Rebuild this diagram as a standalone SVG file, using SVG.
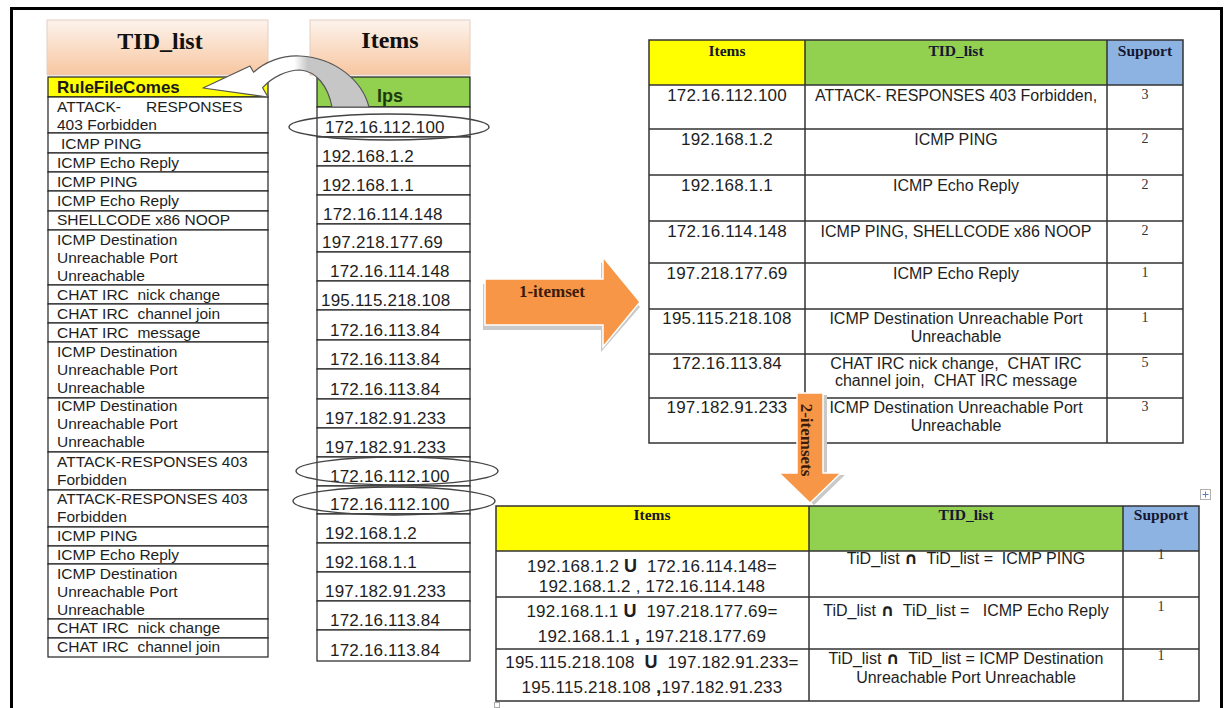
<svg xmlns="http://www.w3.org/2000/svg" width="1227" height="708" viewBox="0 0 1227 708">
<style>
.t{font-family:"Liberation Sans",Arial,sans-serif;font-size:15.5px;fill:#1e1e1e}
.ip{font-family:"Liberation Sans",Arial,sans-serif;font-size:17px;fill:#1e1e1e;letter-spacing:0.2px}
.m{text-anchor:middle}
.td{font-family:"Liberation Sans",Arial,sans-serif;font-size:16px;fill:#1e1e1e;text-anchor:middle}
.cap{font-family:"DejaVu Sans",sans-serif;font-size:17px;font-weight:bold}
.hd{font-family:"Liberation Serif","Times New Roman",serif;font-weight:bold;font-size:15.5px;fill:#161630;text-anchor:middle}
.big{font-family:"Liberation Serif","Times New Roman",serif;font-weight:bold;font-size:24px;fill:#111;text-anchor:middle}
.num{font-family:"Liberation Serif","Times New Roman",serif;font-size:14px;fill:#333;text-anchor:middle}
.cell{fill:#fff;stroke:#222;stroke-width:1.2}
.grid{fill:none;stroke:#333;stroke-width:1.5}
.ell{fill:none;stroke:#444;stroke-width:1.4}
.head{fill:url(#peach);stroke:#e3cfc2;stroke-width:1}
.orange{fill:#f79646;stroke:#fff;stroke-width:1.5}
.shadow{fill:#c9c9c9}
.lbl{font-family:"Liberation Serif","Times New Roman",serif;font-weight:bold;font-size:17px;fill:#3a1c0c;text-anchor:middle}
</style>
<defs>
<linearGradient id="peach" x1="0" y1="0" x2="0" y2="1">
<stop offset="0" stop-color="#fdf3ec"/>
<stop offset="1" stop-color="#f7c6a0"/>
</linearGradient>
<linearGradient id="ribbon" x1="0" y1="0" x2="1" y2="0">
<stop offset="0.55" stop-color="#ffffff"/>
<stop offset="0.63" stop-color="#c6c6c6"/>
</linearGradient>
</defs>
<rect x="0" y="0" width="1227" height="708" fill="#fff"/>
<rect x="11.5" y="8.5" width="1210" height="720" fill="none" stroke="#000" stroke-width="3"/>

<g id="tid-list">
<rect class="head" x="47" y="20" width="221" height="55"/>
<text class="big" x="160" y="49">TID_list</text>
<rect x="48" y="77" width="220" height="20" fill="#ffff00" stroke="#222" stroke-width="1.2"/>
<text x="57" y="93" style="font-family:'Liberation Sans',Arial,sans-serif;font-weight:bold;font-size:17px;fill:#1a1a1a">RuleFileComes</text>
<rect class="cell" x="48" y="97" width="220" height="36"/>
<rect class="cell" x="48" y="133" width="220" height="20"/>
<rect class="cell" x="48" y="153" width="220" height="19"/>
<rect class="cell" x="48" y="172" width="220" height="19"/>
<rect class="cell" x="48" y="191" width="220" height="20"/>
<rect class="cell" x="48" y="211" width="220" height="19"/>
<rect class="cell" x="48" y="230" width="220" height="55"/>
<rect class="cell" x="48" y="285" width="220" height="19"/>
<rect class="cell" x="48" y="304" width="220" height="19"/>
<rect class="cell" x="48" y="323" width="220" height="19"/>
<rect class="cell" x="48" y="342" width="220" height="56"/>
<rect class="cell" x="48" y="398" width="220" height="54"/>
<rect class="cell" x="48" y="452" width="220" height="38"/>
<rect class="cell" x="48" y="490" width="220" height="37"/>
<rect class="cell" x="48" y="527" width="220" height="19"/>
<rect class="cell" x="48" y="546" width="220" height="18"/>
<rect class="cell" x="48" y="564" width="220" height="55"/>
<rect class="cell" x="48" y="619" width="220" height="19"/>
<rect class="cell" x="48" y="638" width="220" height="19"/>
<text class="t" y="112"><tspan x="57">ATTACK-</tspan><tspan x="146">RESPONSES</tspan></text>
<text class="t" x="57" y="130">403 Forbidden</text>
<text class="t" x="61" y="149">ICMP PING</text>
<text class="t" x="57" y="168">ICMP Echo Reply</text>
<text class="t" x="57" y="187">ICMP PING</text>
<text class="t" x="57" y="206">ICMP Echo Reply</text>
<text class="t" x="57" y="225">SHELLCODE x86 NOOP</text>
<text class="t" x="57" y="245">ICMP Destination</text>
<text class="t" x="57" y="263">Unreachable Port</text>
<text class="t" x="57" y="281">Unreachable</text>
<text class="t" x="57" y="300" xml:space="preserve">CHAT IRC  nick change</text>
<text class="t" x="57" y="319" xml:space="preserve">CHAT IRC  channel join</text>
<text class="t" x="57" y="338" xml:space="preserve">CHAT IRC  message</text>
<text class="t" x="57" y="357">ICMP Destination</text>
<text class="t" x="57" y="375">Unreachable Port</text>
<text class="t" x="57" y="393">Unreachable</text>
<text class="t" x="57" y="411">ICMP Destination</text>
<text class="t" x="57" y="429">Unreachable Port</text>
<text class="t" x="57" y="447">Unreachable</text>
<text class="t" x="57" y="467">ATTACK-RESPONSES 403</text>
<text class="t" x="57" y="485">Forbidden</text>
<text class="t" x="57" y="504">ATTACK-RESPONSES 403</text>
<text class="t" x="57" y="522">Forbidden</text>
<text class="t" x="57" y="541">ICMP PING</text>
<text class="t" x="57" y="560">ICMP Echo Reply</text>
<text class="t" x="57" y="579">ICMP Destination</text>
<text class="t" x="57" y="597">Unreachable Port</text>
<text class="t" x="57" y="615">Unreachable</text>
<text class="t" x="57" y="633" xml:space="preserve">CHAT IRC  nick change</text>
<text class="t" x="57" y="652" xml:space="preserve">CHAT IRC  channel join</text>
</g>

<g id="items-list">
<rect class="head" x="310" y="20" width="160" height="55"/>
<text class="big" x="390" y="48">Items</text>
<rect x="317" y="77" width="153" height="30" fill="#92d050" stroke="#222" stroke-width="1.2"/>
<text x="390" y="102" text-anchor="middle" style="font-family:'Liberation Sans',Arial,sans-serif;font-weight:bold;font-size:18px;fill:#1e3a0b">Ips</text>
<rect class="cell" x="317" y="107" width="153" height="30"/>
<rect class="cell" x="317" y="137" width="153" height="29"/>
<rect class="cell" x="317" y="166" width="153" height="29"/>
<rect class="cell" x="317" y="195" width="153" height="29"/>
<rect class="cell" x="317" y="224" width="153" height="28"/>
<rect class="cell" x="317" y="252" width="153" height="29"/>
<rect class="cell" x="317" y="281" width="153" height="29"/>
<rect class="cell" x="317" y="310" width="153" height="30"/>
<rect class="cell" x="317" y="340" width="153" height="29"/>
<rect class="cell" x="317" y="369" width="153" height="30"/>
<rect class="cell" x="317" y="399" width="153" height="29"/>
<rect class="cell" x="317" y="428" width="153" height="29"/>
<rect class="cell" x="317" y="457" width="153" height="29"/>
<rect class="cell" x="317" y="486" width="153" height="28"/>
<rect class="cell" x="317" y="514" width="153" height="29"/>
<rect class="cell" x="317" y="543" width="153" height="29"/>
<rect class="cell" x="317" y="572" width="153" height="29"/>
<rect class="cell" x="317" y="601" width="153" height="29"/>
<rect class="cell" x="317" y="630" width="153" height="31"/>
<text class="ip" x="325" y="133">172.16.112.100</text>
<text class="ip" x="322" y="162">192.168.1.2</text>
<text class="ip" x="322" y="191">192.168.1.1</text>
<text class="ip" x="323" y="220">172.16.114.148</text>
<text class="ip" x="322" y="248">197.218.177.69</text>
<text class="ip" x="330" y="277">172.16.114.148</text>
<text class="ip" x="321" y="306">195.115.218.108</text>
<text class="ip" x="330" y="336">172.16.113.84</text>
<text class="ip" x="330" y="365">172.16.113.84</text>
<text class="ip" x="330" y="395">172.16.113.84</text>
<text class="ip" x="325" y="424">197.182.91.233</text>
<text class="ip" x="325" y="453">197.182.91.233</text>
<text class="ip" x="330" y="482">172.16.112.100</text>
<text class="ip" x="330" y="510">172.16.112.100</text>
<text class="ip" x="325" y="539">192.168.1.2</text>
<text class="ip" x="325" y="568">192.168.1.1</text>
<text class="ip" x="325" y="597">197.182.91.233</text>
<text class="ip" x="330" y="626">172.16.113.84</text>
<text class="ip" x="330" y="656">172.16.113.84</text>
</g>

<g id="highlights">
<ellipse class="ell" cx="389" cy="127" rx="100" ry="13"/>
<ellipse class="ell" cx="397" cy="471" rx="101" ry="14"/>
<ellipse class="ell" cx="394" cy="501" rx="101" ry="14"/>
</g>

<g id="table-1itemset">
<rect x="649" y="40" width="156" height="45" fill="#ffff00"/>
<rect x="805" y="40" width="302" height="45" fill="#92d050"/>
<rect x="1107" y="40" width="76" height="45" fill="#8db3e2"/>
<rect class="grid" x="649" y="40" width="534" height="403"/>
<path class="grid" d="M805 40V443M1107 40V443M649 85H1183M649 129H1183M649 175H1183M649 221H1183M649 263H1183M649 309H1183M649 354H1183M649 398H1183"/>
<text class="hd" x="727" y="56">Items</text>
<text class="hd" x="956" y="56">TID_list</text>
<text class="hd" x="1145" y="56">Support</text>
<text class="ip m" x="727" y="101">172.16.112.100</text>
<text class="td" x="956" y="101">ATTACK- RESPONSES 403 Forbidden,</text>
<text class="num" x="1145" y="99">3</text>
<text class="ip m" x="727" y="145">192.168.1.2</text>
<text class="td" x="956" y="145">ICMP PING</text>
<text class="num" x="1145" y="143">2</text>
<text class="ip m" x="727" y="191">192.168.1.1</text>
<text class="td" x="956" y="191">ICMP Echo Reply</text>
<text class="num" x="1145" y="189">2</text>
<text class="ip m" x="727" y="237">172.16.114.148</text>
<text class="td" x="956" y="237">ICMP PING, SHELLCODE x86 NOOP</text>
<text class="num" x="1145" y="235">2</text>
<text class="ip m" x="727" y="279">197.218.177.69</text>
<text class="td" x="956" y="279">ICMP Echo Reply</text>
<text class="num" x="1145" y="277">1</text>
<text class="ip m" x="727" y="324">195.115.218.108</text>
<text class="td" x="956" y="324">ICMP Destination Unreachable Port</text>
<text class="td" x="956" y="342">Unreachable</text>
<text class="num" x="1145" y="322">1</text>
<text class="ip m" x="727" y="369">172.16.113.84</text>
<text class="td" x="956" y="369" xml:space="preserve">CHAT IRC nick change,  CHAT IRC</text>
<text class="td" x="956" y="386" xml:space="preserve">channel join,  CHAT IRC message</text>
<text class="num" x="1145" y="367">5</text>
<text class="ip m" x="727" y="413">197.182.91.233</text>
<text class="td" x="956" y="413">ICMP Destination Unreachable Port</text>
<text class="td" x="956" y="431">Unreachable</text>
<text class="num" x="1145" y="411">3</text>
</g>

<g id="table-2itemsets">
<rect x="496" y="506" width="313" height="45" fill="#ffff00"/>
<rect x="809" y="506" width="314" height="45" fill="#92d050"/>
<rect x="1123" y="506" width="76" height="45" fill="#8db3e2"/>
<rect class="grid" x="496" y="506" width="703" height="195"/>
<path class="grid" d="M809 506V701M1123 506V701M496 551H1199M496 597H1199M496 649H1199"/>
<text class="hd" x="652" y="520">Items</text>
<text class="hd" x="966" y="520">TID_list</text>
<text class="hd" x="1161" y="520">Support</text>
<text class="ip m" x="652" y="572" xml:space="preserve">192.168.1.2 <tspan font-weight="bold" font-size="18">U</tspan>  172.16.114.148=</text>
<text class="ip m" x="652" y="592">192.168.1.2 , 172.16.114.148</text>
<text class="ip m" x="652" y="617" xml:space="preserve">192.168.1.1 <tspan font-weight="bold" font-size="18">U</tspan>  197.218.177.69=</text>
<text class="ip m" x="652" y="642">192.168.1.1 <tspan font-weight="bold" font-size="19">,</tspan> 197.218.177.69</text>
<text class="ip m" x="652" y="668" xml:space="preserve">195.115.218.108  <tspan font-weight="bold" font-size="18">U</tspan>  197.182.91.233=</text>
<text class="ip m" x="652" y="693">195.115.218.108 <tspan font-weight="bold" font-size="19">,</tspan>197.182.91.233</text>
<text class="td" x="966" y="564" xml:space="preserve">TiD_list <tspan class="cap">∩</tspan>  TiD_list =  ICMP PING</text>
<text class="td" x="966" y="616" xml:space="preserve">TiD_list <tspan class="cap">∩</tspan>  TiD_list =   ICMP Echo Reply</text>
<text class="td" x="966" y="664" xml:space="preserve">TiD_list <tspan class="cap">∩</tspan>  TiD_list = ICMP Destination</text>
<text class="td" x="966" y="683">Unreachable Port Unreachable</text>
<text class="num" x="1161" y="559" font-size="13">1</text>
<text class="num" x="1161" y="611" font-size="13">1</text>
<text class="num" x="1161" y="660" font-size="13">1</text>
<rect x="1200.5" y="489.5" width="10" height="10" fill="#fff" stroke="#b0b0b0"/>
<path d="M1205.5 491.5V497.5M1202.5 494.5H1208.5" stroke="#5b7fb8" stroke-width="1"/>
<rect x="494.5" y="702.5" width="5" height="5" fill="none" stroke="#aaa"/>
</g>

<g id="connectors">
<path d="M369 107C362 80 335 58 300 56C282 55 265 62 253.6 72.2L250 66L203 88L268 97L262.6 87.7C272 77 287 70 300 70C316 71 328 86 332 107Z" fill="url(#ribbon)" stroke="#555" stroke-width="1.2" stroke-linejoin="round"/>
<polygon class="shadow" points="483,284 601,284 601,262 640,307 601,352 601,330 483,330"/>
<polygon class="orange" points="485,279 603,279 603,257 640,302 603,347 603,325 485,325"/>
<text class="lbl" x="552" y="297">1-itemset</text>
<polygon class="shadow" points="801,395 827,395 827,475 845,475 814,505 783,475 801,475"/>
<polygon class="orange" points="797,393 823,393 823,473 841,473 810,503 779,473 797,473"/>
<text class="lbl" transform="translate(806 440) rotate(90)" dominant-baseline="central">2-itemsets</text>
</g>
</svg>
